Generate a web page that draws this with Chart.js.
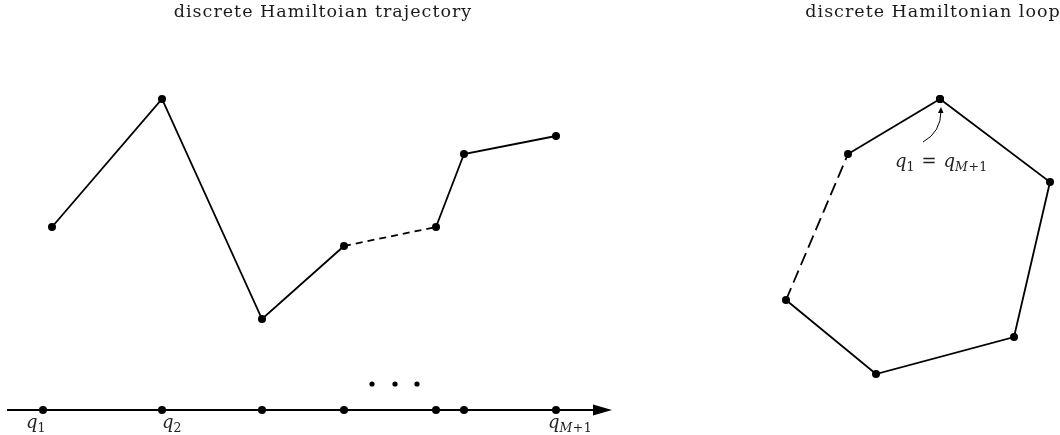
<!DOCTYPE html>
<html>
<head>
<meta charset="utf-8">
<script src="https://cdn.jsdelivr.net/npm/chart.js@4/dist/chart.umd.min.js"></script>
<style>
html,body{margin:0;padding:0;background:#fff;}
#wrap{width:1060px;height:435px;}
</style>
</head>
<body>
<div id="wrap"><canvas id="c" width="1060" height="435"></canvas></div>
<script>
// ---- data (diagram coordinates: x to the right, y downward) ----
const trajX = [52, 162, 262, 344, 436, 464, 556];
const trajY = [227, 99, 319, 246, 227, 154, 136];
const trajDashedSegment = 3;

const axisPointX = [43, 162, 262, 344, 436, 464, 556];
const axisY = 410;
const axisStartX = 7;
const axisEndX = 612;

const ellipsisX = [372, 395, 417];
const ellipsisY = 384;

const loopX = [940, 1050, 1014, 876, 786, 848, 940];
const loopY = [99, 182, 337, 374, 300, 154, 99];
const loopDashedSegment = 4;

const titles = ["discrete Hamiltoian trajectory", "discrete Hamiltonian loop"];
const titleX = [323, 933];

const axisLabels = [
  {x: 26, parts: [{t: "q", it: true}, {t: "1", sub: true}]},
  {x: 162, parts: [{t: "q", it: true}, {t: "2", sub: true}]},
  {x: 548, parts: [{t: "q", it: true}, {t: "M", sub: true, it: true}, {t: "+", sub: true, gap: 0.5}, {t: "1", sub: true}]}
];
const annotation = {x: 895, y: 167, parts: [{t: "q", it: true}, {t: "1", sub: true}, {t: "=", gap: 7}, {t: "q", it: true}, {t: "M", sub: true, it: true}, {t: "+", sub: true, gap: 0.5}, {t: "1", sub: true}]};

const zip = (xs, ys) => xs.map((x, i) => ({x: x, y: ys[i]}));

const FONT = '"DejaVu Serif", "Liberation Serif", serif';

function drawMath(ctx, parts, x, y) {
  let cx = x;
  for (const p of parts) {
    const size = p.sub ? 12.5 : 18;
    ctx.font = (p.it ? 'italic ' : '') + size + 'px ' + FONT;
    const dy = p.sub ? 3.5 : 0;
    const g = p.gap || 0;
    cx += g;
    ctx.fillText(p.t, cx, y + dy);
    cx += ctx.measureText(p.t).width + g;
  }
}

const textPlugin = {
  id: 'diagramText',
  afterDraw(chart) {
    const ctx = chart.ctx;
    const xs = chart.scales.x, ys = chart.scales.y;
    ctx.save();
    // arrow head
    const ay = ys.getPixelForValue(axisY);
    const tip = xs.getPixelForValue(axisEndX);
    ctx.fillStyle = '#000';
    ctx.beginPath();
    ctx.moveTo(tip, ay);
    ctx.lineTo(tip - 19, ay - 5.5);
    ctx.lineTo(tip - 19, ay + 5.5);
    ctx.closePath();
    ctx.fill();
    // titles
    ctx.fillStyle = '#1a1a1a';
    ctx.textBaseline = 'alphabetic';
    ctx.textAlign = 'center';
    ctx.font = '17.5px ' + FONT;
    if ('letterSpacing' in ctx) ctx.letterSpacing = '1px';
    titles.forEach((t, i) => ctx.fillText(t, xs.getPixelForValue(titleX[i]), ys.getPixelForValue(17)));
    if ('letterSpacing' in ctx) ctx.letterSpacing = '0px';
    // axis labels
    ctx.textAlign = 'left';
    ctx.fillStyle = '#222';
    axisLabels.forEach(l => drawMath(ctx, l.parts, xs.getPixelForValue(l.x), ys.getPixelForValue(428)));
    drawMath(ctx, annotation.parts, xs.getPixelForValue(annotation.x), ys.getPixelForValue(annotation.y));
    // curved arrow of the annotation
    const sx = xs.getPixelForValue(923), sy = ys.getPixelForValue(142);
    const ex = xs.getPixelForValue(941), ey = ys.getPixelForValue(107);
    ctx.strokeStyle = '#000';
    ctx.lineWidth = 1;
    ctx.beginPath();
    ctx.moveTo(sx, sy);
    ctx.quadraticCurveTo(xs.getPixelForValue(941), ys.getPixelForValue(132), ex, ey + 4);
    ctx.stroke();
    ctx.fillStyle = '#000';
    ctx.beginPath();
    ctx.moveTo(ex, ey);
    ctx.lineTo(ex - 3, ey + 6);
    ctx.lineTo(ex + 2.5, ey + 6);
    ctx.closePath();
    ctx.fill();
    ctx.restore();
  }
};

const black = '#000';
const common = {
  showLine: true,
  borderColor: black,
  backgroundColor: black,
  pointBackgroundColor: black,
  pointBorderColor: black,
  clip: false
};

new Chart(document.getElementById('c'), {
  type: 'scatter',
  data: {
    datasets: [
      Object.assign({}, common, {
        data: [{x: axisStartX, y: axisY}, {x: axisEndX - 15, y: axisY}],
        borderWidth: 2, pointRadius: 0
      }),
      Object.assign({}, common, {
        data: axisPointX.map(x => ({x: x, y: axisY})),
        showLine: false, pointRadius: 4, pointBorderWidth: 0
      }),
      Object.assign({}, common, {
        data: ellipsisX.map(x => ({x: x, y: ellipsisY})),
        showLine: false, pointRadius: 2.6, pointBorderWidth: 0
      }),
      Object.assign({}, common, {
        data: zip(trajX, trajY),
        borderWidth: 1.8, pointRadius: 4, pointBorderWidth: 0,
        segment: {borderDash: c => c.p0DataIndex === trajDashedSegment ? [7, 5] : undefined}
      }),
      Object.assign({}, common, {
        data: zip(loopX, loopY),
        borderWidth: 1.8, pointRadius: 4, pointBorderWidth: 0,
        segment: {borderDash: c => c.p0DataIndex === loopDashedSegment ? [13, 6] : undefined}
      })
    ]
  },
  options: {
    responsive: false,
    animation: false,
    events: [],
    layout: {padding: 0, autoPadding: false},
    plugins: {legend: {display: false}, tooltip: {enabled: false}, title: {display: false}},
    scales: {
      x: {type: 'linear', min: 0, max: 1060, display: false},
      y: {type: 'linear', min: 0, max: 435, reverse: true, display: false}
    }
  },
  plugins: [textPlugin]
});
</script>
</body>
</html>
